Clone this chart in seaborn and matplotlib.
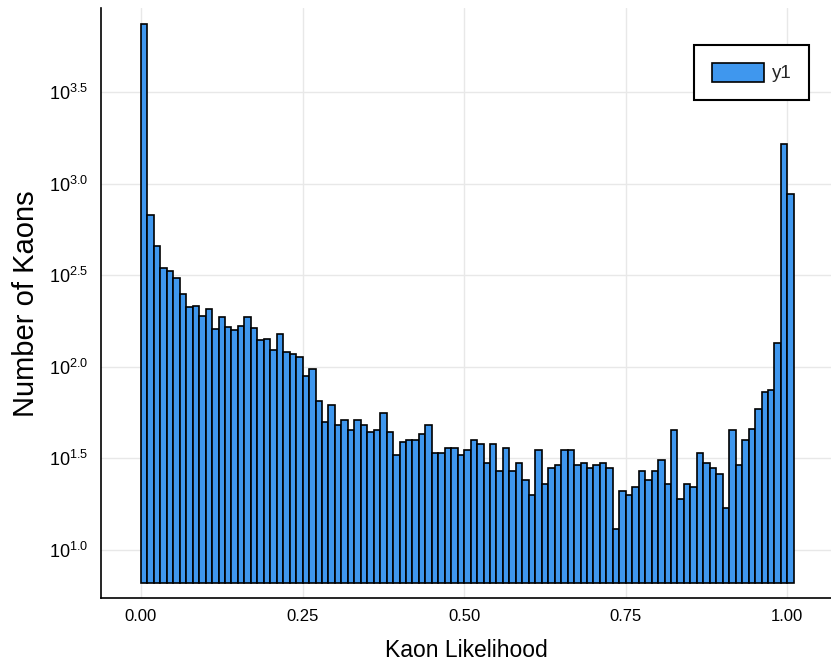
import numpy as np
import pandas as pd
import seaborn as sns
import matplotlib.pyplot as plt

# Kaon likelihood histogram, 101 bins of width 0.01 starting at 0
bin_start = 0.0
bin_width = 0.01
counts = [
    7413, 675, 458, 344, 333, 305, 249, 211, 216, 190,
    207, 160, 187, 164, 158, 167, 187, 163, 140, 142,
    123, 151, 121, 118, 113, 89, 97, 65, 50, 62,
    48, 51, 45, 51, 48, 44, 45, 56, 44, 33,
    39, 40, 40, 43, 48, 34, 34, 36, 36, 33,
    35, 40, 38, 30, 38, 27, 36, 27, 30, 24,
    20, 35, 23, 28, 29, 35, 35, 29, 30, 28,
    29, 30, 28, 13, 21, 20, 22, 27, 24, 27,
    31, 23, 45, 19, 23, 22, 34, 30, 28, 26,
    17, 45, 29, 40, 46, 59, 73, 75, 135, 1652,
    877,
]
xtick_vals = [0.0, 0.25, 0.5, 0.75, 1.0]
xtick_labels = ["0.00", "0.25", "0.50", "0.75", "1.00"]
ytick_exps = [1.0, 1.5, 2.0, 2.5, 3.0, 3.5]

n_bins = len(counts)
bin_stop = bin_start + bin_width * n_bins
centers = bin_start + bin_width * (np.arange(n_bins) + 0.5)
df = pd.DataFrame({"likelihood": centers, "n": counts})

sns.set_style("white")
plt.rcParams["font.family"] = ["Liberation Sans", "DejaVu Sans"]
plt.rcParams["mathtext.fontset"] = "custom"
plt.rcParams["mathtext.rm"] = "Liberation Sans"
plt.rcParams["mathtext.it"] = "Liberation Sans:italic"

fig = plt.figure(figsize=(8.31, 6.66), dpi=100)
ax = fig.add_axes([0.1215, 0.1017, 0.8785, 0.8858])

sns.histplot(data=df, x="likelihood", weights="n", bins=n_bins,
             binrange=(bin_start, bin_stop), ax=ax,
             color="#3f97ee", edgecolor="black", linewidth=1.2, alpha=1.0,
             label="y1")

ax.set_yscale("log")
# bars in the original sit on a floor a bit above the lower axis limit
floor = 10 ** 0.818
for p in ax.patches:
    h = p.get_height()
    p.set_y(floor)
    p.set_height(h - floor)

ax.set_xlim(-0.0619, 1.0675)
ax.set_ylim(10 ** 0.736, 10 ** 3.957)

ax.set_xticks(xtick_vals)
ax.set_xticklabels(xtick_labels, fontsize=12)
ax.set_yticks([10 ** e for e in ytick_exps])
ax.set_yticklabels([rf"$10^{{{e:.1f}}}$" for e in ytick_exps], fontsize=13)
ax.minorticks_off()
ax.tick_params(axis="both", direction="in", length=6, width=1, color="black",
               labelcolor="black")
ax.tick_params(axis="x", pad=8)
ax.tick_params(axis="y", pad=9)

ax.grid(True, color="#e8e8e8", linewidth=1)
ax.set_axisbelow(True)
for side in ["top", "right"]:
    ax.spines[side].set_visible(False)
for side in ["left", "bottom"]:
    ax.spines[side].set_color("black")
    ax.spines[side].set_linewidth(1.2)

ax.set_xlabel("Kaon Likelihood", fontsize=16.5, color="black")
ax.set_ylabel("Number of Kaons", fontsize=21, color="black")
ax.xaxis.set_label_coords(0.5, -0.069)
ax.yaxis.set_label_coords(-0.083, 0.5)

leg = ax.legend(loc="upper right", bbox_to_anchor=(0.970, 0.938),
                borderaxespad=0, fontsize=13.5, frameon=True, fancybox=False,
                framealpha=1, edgecolor="black", borderpad=0.95,
                handlelength=2.77, handleheight=1.17, handletextpad=0.4)
leg.get_frame().set_linewidth(1.5)

fig.savefig("out.png", dpi=100)
